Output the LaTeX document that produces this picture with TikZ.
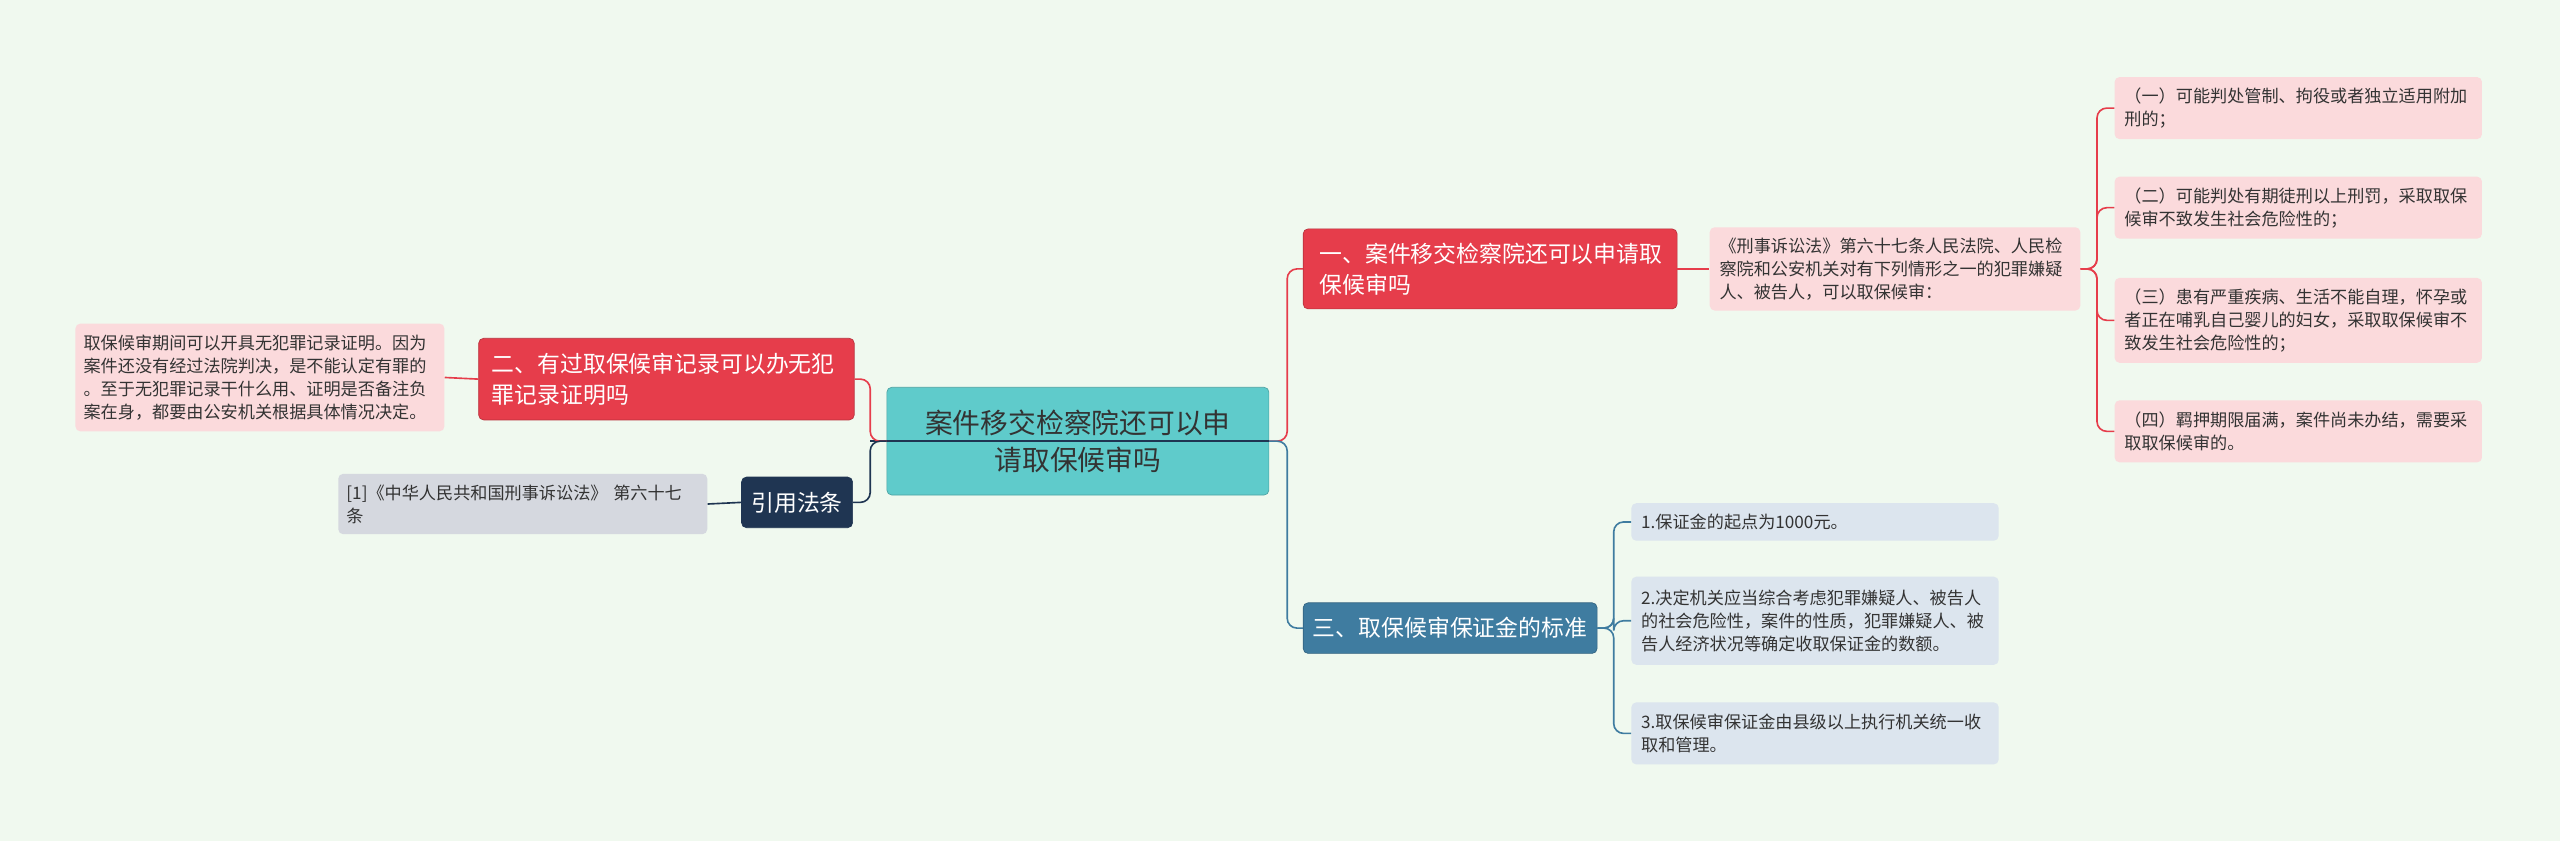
\documentclass[tikz,border=0pt]{standalone}
\usepackage{fontspec}
\setmainfont{Noto Sans CJK SC}
\begin{document}
\begin{tikzpicture}[x=1pt,y=-1pt,
 bx/.style={rounded corners=3pt,inner sep=0pt,align=left,anchor=north west},
 cen/.style={bx,fill=cyanc,draw=cyanc!80!black,font=\fontsize{17}{23}\selectfont,text=black!80,align=center},
 redm/.style={bx,fill=redc,draw=redc!80!black,text=white,font=\fontsize{14}{19}\selectfont},
 bluem/.style={bx,fill=bluec,draw=bluec!80!black,text=white,font=\fontsize{14}{19}\selectfont},
 navym/.style={bx,fill=navyc,draw=navyc,text=white,font=\fontsize{14}{19}\selectfont,align=center},
 pinkl/.style={bx,fill=pinkc,font=\fontsize{10.5}{14}\selectfont,text=black!80},
 bluel/.style={bx,fill=lbluec,font=\fontsize{10.5}{14}\selectfont,text=black!80},
 grayl/.style={bx,fill=grayc,font=\fontsize{10.5}{14}\selectfont,text=black!80},
 rl/.style={draw=redc,line width=1pt,rounded corners=6pt},
 bl/.style={draw=bluec,line width=1pt,rounded corners=6pt},
 nl/.style={draw=navyc,line width=1pt,rounded corners=6pt}]
\definecolor{bg}{HTML}{F0F9EF}
\definecolor{cyanc}{HTML}{5FCBCB}
\definecolor{redc}{HTML}{E63D4B}
\definecolor{bluec}{HTML}{3F7CA0}
\definecolor{navyc}{HTML}{1F3552}
\definecolor{pinkc}{HTML}{FBDADC}
\definecolor{lbluec}{HTML}{DCE5EE}
\definecolor{grayc}{HTML}{D5D8DF}
\fill[bg] (0,0) rectangle (1568,515);
\useasboundingbox (0,0) rectangle (1568,515);
\node[cen,minimum width=234,minimum height=66,text width=234] (c) at (543,237) {案件移交检察院还可以申\\请取保候审吗};
\node[redm,minimum width=229,minimum height=49,text width=219] (r1) at (798,140) {\hspace*{5pt}一、案件移交检察院还可以申请取\\\hspace*{5pt}保候审吗};
\node[pinkl,minimum width=227,minimum height=51,text width=227] (r1c) at (1047,139) {\hspace*{6pt}《刑事诉讼法》第六十七条人民法院、人民检\\\hspace*{6pt}察院和公安机关对有下列情形之一的犯罪嫌疑\\\hspace*{6pt}人、被告人，可以取保候审：};
\node[pinkl,minimum width=225,minimum height=38,text width=225] (l1) at (1295,47) {\hspace*{6pt}（一）可能判处管制、拘役或者独立适用附加\\\hspace*{6pt}刑的；};
\node[pinkl,minimum width=225,minimum height=38,text width=225] (l2) at (1295,108) {\hspace*{6pt}（二）可能判处有期徒刑以上刑罚，采取取保\\\hspace*{6pt}候审不致发生社会危险性的；};
\node[pinkl,minimum width=225,minimum height=52,text width=225] (l3) at (1295,170) {\hspace*{6pt}（三）患有严重疾病、生活不能自理，怀孕或\\\hspace*{6pt}者正在哺乳自己婴儿的妇女，采取取保候审不\\\hspace*{6pt}致发生社会危险性的；};
\node[pinkl,minimum width=225,minimum height=38,text width=225] (l4) at (1295,245) {\hspace*{6pt}（四）羁押期限届满，案件尚未办结，需要采\\\hspace*{6pt}取取保候审的。};
\node[bluem,minimum width=180,minimum height=31,text width=180] (r2) at (798,369) {\hspace*{6pt}三、取保候审保证金的标准};
\node[bluel,minimum width=225,minimum height=23,text width=225] (b1) at (999,308) {\hspace*{6pt}1.保证金的起点为1000元。};
\node[bluel,minimum width=225,minimum height=54,text width=225] (b2) at (999,353) {\hspace*{6pt}2.决定机关应当综合考虑犯罪嫌疑人、被告人\\\hspace*{6pt}的社会危险性，案件的性质，犯罪嫌疑人、被\\\hspace*{6pt}告人经济状况等确定收取保证金的数额。};
\node[bluel,minimum width=225,minimum height=38,text width=225] (b3) at (999,430) {\hspace*{6pt}3.取保候审保证金由县级以上执行机关统一收\\\hspace*{6pt}取和管理。};
\node[redm,minimum width=230,minimum height=50,text width=230] (q2) at (293,207) {\hspace*{8pt}二、有过取保候审记录可以办无犯\\\hspace*{8pt}罪记录证明吗};
\node[pinkl,minimum width=226,minimum height=66,text width=226] (q2c) at (46,198) {\hspace*{5pt}取保候审期间可以开具无犯罪记录证明。因为\\\hspace*{5pt}案件还没有经过法院判决，是不能认定有罪的\\\hspace*{5pt}。至于无犯罪记录干什么用、证明是否备注负\\\hspace*{5pt}案在身，都要由公安机关根据具体情况决定。};
\node[navym,minimum width=68,minimum height=31] (cite) at (454,292) {引用法条};
\node[grayl,minimum width=226,minimum height=37,text width=226] (citec) at (207,290) {\hspace*{5pt}[1]《中华人民共和国刑事诉讼法》 第六十七\\\hspace*{5pt}条};
% connectors
\draw[rl] (c.east) -- ++(11,0) |- (r1.west);
\draw[bl] (c.east) -- ++(11,0) |- (r2.west);
\draw[navyc,line width=1pt] (c.west) ++(-10,0) -- (c.east);
\draw[rl] (c.west) -- ++(-10,0) |- (q2.east);
\draw[nl] (c.west) -- ++(-10,0) |- (cite.east);
\draw[rl] (q2.west) -- (q2c.east);
\draw[nl] (cite.west) -- (citec.east);
\draw[rl] (r1.east) -- (r1c.west);
\foreach \n in {l1,l2,l3,l4} \draw[rl] (r1c.east) -- ++(10,0) |- (\n.west);
\foreach \n in {b1,b2,b3} \draw[bl] (r2.east) -- ++(10,0) |- (\n.west);
\end{tikzpicture}
\end{document}
